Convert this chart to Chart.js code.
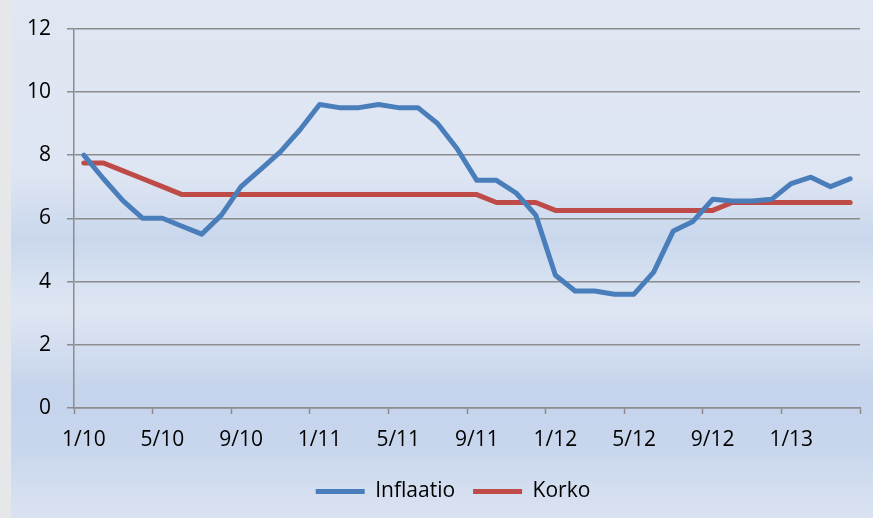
<!DOCTYPE html>
<html>
<head>
<meta charset="utf-8">
<script src="https://cdn.jsdelivr.net/npm/chart.js@4"></script>
<style>
  html, body { margin: 0; padding: 0; background: #e6e7e8; }
  #wrap { width: 873px; height: 518px; position: relative; }
</style>
</head>
<body>
<div id="wrap"><canvas id="chart" width="873" height="518"></canvas></div>
<script>
// x tick labels, one every 4 months (1/10 ... 1/13)
const tickLabels = ['1/10', '5/10', '9/10', '1/11', '5/11', '9/11', '1/12', '5/12', '9/12', '1/13'];

// monthly values 1/10 ... 4/13
const inflaatio = [8.0, 7.25, 6.55, 6.0, 6.0, 5.75, 5.5, 6.1, 7.0, 7.55,
                   8.1, 8.8, 9.6, 9.5, 9.5, 9.6, 9.5, 9.5, 9.0, 8.2,
                   7.2, 7.2, 6.8, 6.1, 4.2, 3.7, 3.7, 3.6, 3.6, 4.3,
                   5.6, 5.9, 6.6, 6.55, 6.55, 6.6, 7.1, 7.3, 7.0, 7.25];
const korko = [7.75, 7.75, 7.5, 7.25, 7.0, 6.75, 6.75, 6.75, 6.75, 6.75,
               6.75, 6.75, 6.75, 6.75, 6.75, 6.75, 6.75, 6.75, 6.75, 6.75,
               6.75, 6.5, 6.5, 6.5, 6.25, 6.25, 6.25, 6.25, 6.25, 6.25,
               6.25, 6.25, 6.25, 6.5, 6.5, 6.5, 6.5, 6.5, 6.5, 6.5];

const FONT = "'Open Sans', sans-serif";
const GRID = '#8c8c8c';

// points sit in the middle of each month slot
function toPoints(arr) {
    return arr.map((v, i) => ({ x: i + 0.5, y: v }));
}

const background = {
    id: 'background',
    beforeDraw(chart) {
        const ctx = chart.ctx;
        const w = chart.width, h = chart.height;
        ctx.save();
        ctx.fillStyle = '#e6e7e8';
        ctx.fillRect(0, 0, w, h);
        const g = ctx.createLinearGradient(0, 0, 0, h);
        g.addColorStop(0, '#e0e7f3');
        g.addColorStop(0.33, '#dfe6f3');
        g.addColorStop(0.46, '#c9d7ed');
        g.addColorStop(0.52, '#d3dff0');
        g.addColorStop(0.6, '#dfe6f3');
        g.addColorStop(0.75, '#c5d4ec');
        g.addColorStop(0.86, '#c7d6ed');
        g.addColorStop(1, '#dbe3f1');
        ctx.fillStyle = g;
        ctx.fillRect(11, 0, w - 11, h);
        ctx.restore();
    }
};

// nudge the legend a bit right, like the original
const legendShift = {
    id: 'legendShift',
    afterLayout(chart) {
        if (chart.legend) {
            chart.legend.left += 22;
            chart.legend.right += 22;
        }
    }
};

const ctx = document.getElementById('chart').getContext('2d');
new Chart(ctx, {
    type: 'line',
    data: {
        datasets: [{
            label: 'Inflaatio',
            data: toPoints(inflaatio),
            borderColor: '#4a7ebb',
            backgroundColor: '#4a7ebb',
            borderWidth: 5,
            pointRadius: 0,
            pointStyle: 'line',
            borderJoinStyle: 'round',
            borderCapStyle: 'round',
            tension: 0
        }, {
            label: 'Korko',
            data: toPoints(korko),
            borderColor: '#be4b48',
            backgroundColor: '#be4b48',
            borderWidth: 5,
            pointRadius: 0,
            pointStyle: 'line',
            borderJoinStyle: 'round',
            borderCapStyle: 'round',
            tension: 0
        }]
    },
    options: {
        responsive: false,
        animation: false,
        layout: { padding: { left: 0, right: 11, top: 28, bottom: 6 } },
        plugins: {
            legend: {
                position: 'bottom',
                labels: {
                    usePointStyle: true,
                    pointStyleWidth: 49,
                    padding: 18,
                    color: '#000',
                    font: { family: FONT, size: 21 }
                }
            },
            tooltip: { enabled: false }
        },
        scales: {
            x: {
                type: 'linear',
                min: 0,
                max: 40,
                afterFit(scale) { scale.height = 55; },
                afterBuildTicks(scale) {
                    scale.ticks = [];
                    for (let v = 0; v <= 40; v += 4) scale.ticks.push({ value: v });
                },
                grid: {
                    drawOnChartArea: false,
                    drawTicks: true,
                    tickLength: 6,
                    tickColor: GRID,
                    tickWidth: 1.5
                },
                border: { display: true, color: GRID, width: 1.5 },
                ticks: {
                    autoSkip: false,
                    maxRotation: 0,
                    labelOffset: 9.85,
                    padding: 13,
                    color: '#000',
                    font: { family: FONT, size: 21 },
                    callback: (v) => tickLabels[v / 4] || ''
                }
            },
            y: {
                min: 0,
                max: 12,
                afterFit(scale) { scale.width = 74; },
                grid: {
                    color: GRID,
                    lineWidth: 1.5,
                    tickLength: 7,
                    tickColor: GRID
                },
                border: { display: true, color: GRID, width: 1.5 },
                ticks: {
                    stepSize: 2,
                    padding: 16,
                    color: '#000',
                    font: { family: FONT, size: 21 }
                }
            }
        }
    },
    plugins: [background, legendShift]
});
</script>
</body>
</html>
